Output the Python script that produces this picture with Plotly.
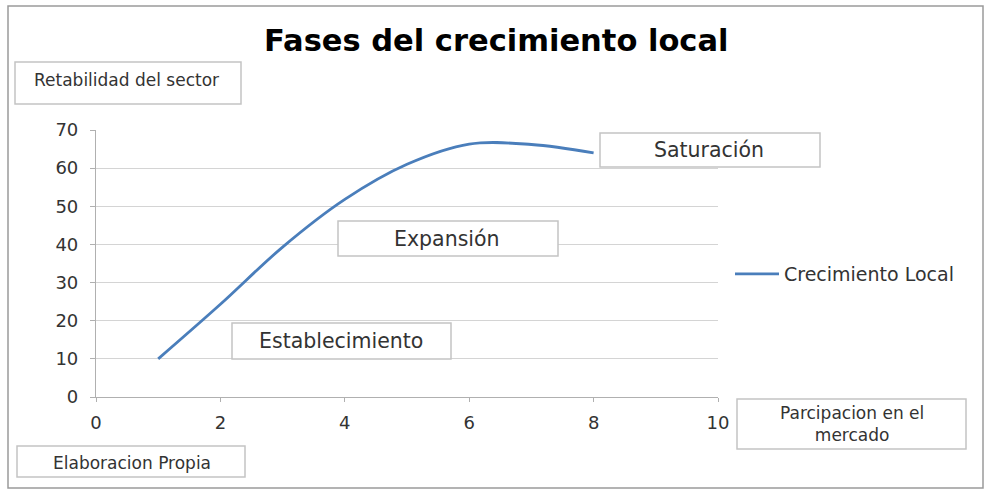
import plotly.graph_objects as go

# ---- data ----
x_vals = [1, 2, 3, 4, 5, 6, 7, 8]
y_vals = [10, 24.3, 39.3, 51.8, 61, 66.3, 66.2, 64]
series_name = "Crecimiento Local"
x_ticks = [0, 2, 4, 6, 8, 10]
y_ticks = [0, 10, 20, 30, 40, 50, 60, 70]

title_text = "Fases del crecimiento local"
box_labels = {
    "ylab": "Retabilidad del sector",
    "sat": "Saturación",
    "exp": "Expansión",
    "est": "Establecimiento",
    "src": "Elaboracion Propia",
    "xlab": "Parcipacion en el<br>mercado",
}

# ---- layout geometry (pixels) ----
W, H = 996, 495
L, R, T, B = 96, 718, 130, 397
FONT = "DejaVu Sans"
TXT = "#333333"
BOX_LINE = "#c4c4c4"


def px(x):
    return (x - L) / (R - L)


def py(y):
    return (B - y) / (B - T)


fig = go.Figure()
fig.add_trace(go.Scatter(
    x=x_vals, y=y_vals, mode="lines", name=series_name,
    line=dict(color="#4a7ebb", width=2.8, shape="spline", smoothing=1.0),
))

shapes = []
annotations = []

# outer frame
shapes.append(dict(type="rect", xref="paper", yref="paper",
                   x0=px(8), x1=px(983), y0=py(488), y1=py(6),
                   line=dict(color="#9a9a9a", width=1.5), layer="below"))


def box(key, x0, y0, x1, y1, size, tx=None, ty=None):
    shapes.append(dict(type="rect", xref="paper", yref="paper",
                       x0=px(x0), x1=px(x1), y0=py(y1), y1=py(y0),
                       line=dict(color=BOX_LINE, width=1.5),
                       fillcolor="white", layer="above"))
    cx = (x0 + x1) / 2 if tx is None else tx
    cy = (y0 + y1) / 2 if ty is None else ty
    annotations.append(dict(xref="paper", yref="paper", x=px(cx), y=py(cy),
                            text=box_labels[key], showarrow=False,
                            xanchor="center", yanchor="middle",
                            font=dict(family=FONT, size=size, color=TXT)))


box("ylab", 15, 62, 241, 104, 17, tx=126, ty=80)
box("sat", 600, 133, 820, 167, 20.5, tx=709)
box("exp", 338, 221, 558, 256, 20.5, tx=447)
box("est", 232, 323, 451, 359, 20.5, tx=341)
box("src", 17, 446, 245, 477, 17, tx=132, ty=463)
box("xlab", 737, 399, 966, 449, 17, tx=852, ty=424)

annotations.append(dict(xref="paper", yref="paper", x=px(496), y=py(40),
                        text="<b>" + title_text + "</b>", showarrow=False,
                        xanchor="center", yanchor="middle",
                        font=dict(family=FONT, size=30.5, color="#000000")))

fig.update_layout(
    width=W, height=H,
    margin=dict(l=L, r=W - R, t=T, b=H - B),
    paper_bgcolor="white", plot_bgcolor="white",
    shapes=shapes, annotations=annotations,
    showlegend=True,
    legend=dict(x=px(730), y=py(274), xanchor="left", yanchor="middle",
                itemwidth=44,
                font=dict(family=FONT, size=19, color=TXT),
                bgcolor="rgba(0,0,0,0)"),
    xaxis=dict(range=[0, 10], tickvals=x_ticks, showgrid=False,
               showline=True, linecolor="#b0b0b0", linewidth=1.2,
               ticks="outside", ticklen=4, tickcolor="#b0b0b0",
               ticklabelstandoff=5,
               tickfont=dict(family=FONT, size=18, color=TXT),
               zeroline=False, fixedrange=True),
    yaxis=dict(range=[0, 70], tickvals=y_ticks, showgrid=True,
               gridcolor="#d4d4d4", gridwidth=1.2,
               showline=True, linecolor="#b0b0b0", linewidth=1.2,
               ticks="outside", ticklen=5, tickcolor="#b0b0b0",
               ticklabelstandoff=8,
               tickfont=dict(family=FONT, size=18, color=TXT),
               zeroline=False, fixedrange=True),
)

fig.write_html("out.html")
